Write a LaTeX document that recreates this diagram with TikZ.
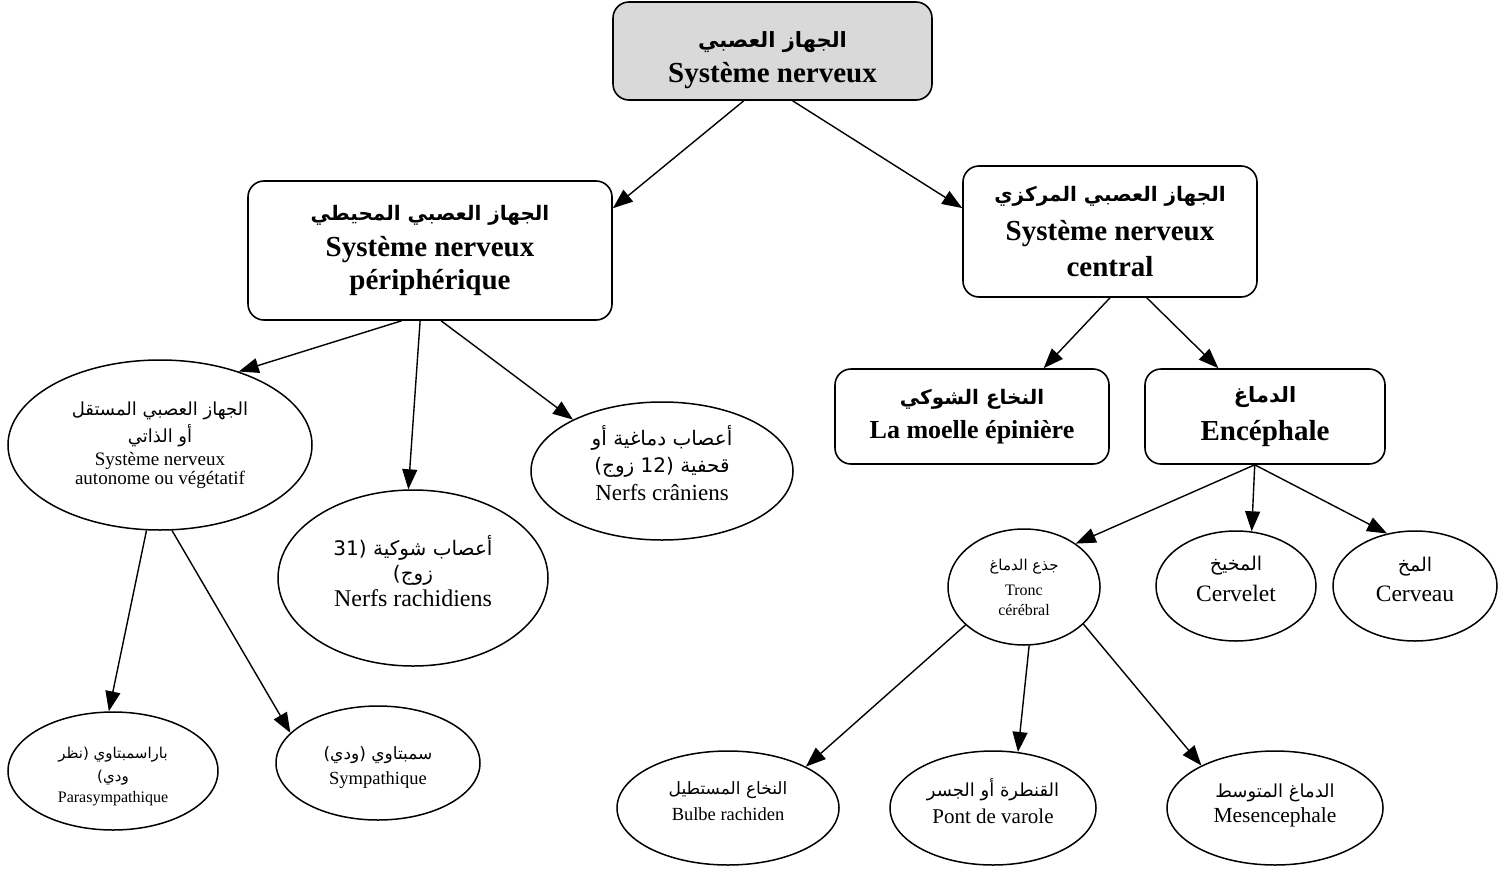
\documentclass[tikz,border=0pt]{standalone}
\usepackage{fontspec}
\setmainfont{Liberation Serif}
\newfontfamily\arabicfont[Script=Arabic]{DejaVu Sans}
\TeXXeTstate=1
\usetikzlibrary{arrows.meta,shapes.geometric}
\newcommand{\ara}[1]{\fontsize{#1}{#1}\arabicfont}
\newcommand{\fs}[1]{\fontsize{#1}{#1}\selectfont}
\newcommand{\uph}[1]{\rule{0pt}{#1}}
\newcommand{\dnd}[1]{\rule[-#1]{0pt}{#1}}
\begin{document}
\begin{tikzpicture}[x=1pt,y=-1pt,
  box/.style={draw, line width=1.6pt, rounded corners=16pt, inner sep=0pt, align=center, font=\bfseries},
  oval/.style={draw, ellipse, line width=1.5pt, inner sep=0pt, align=center},
  arr/.style={line width=1.4pt, -{Triangle[length=20pt,width=15pt]}}
]
\useasboundingbox (0,0) rectangle (1511,872);

% boxes
\node[box, fill=black!15, minimum width=319pt, minimum height=98pt] (top) at (772.5,51)
  {\uph{34pt}{\ara{21}\beginR الجهاز العصبي\endR}\\[8pt]\fs{29}Système nerveux};
\node[box, minimum width=364pt, minimum height=139pt] (peri) at (430,250.5)
  {{\ara{20}\beginR الجهاز العصبي المحيطي\endR}\\[10pt]\fs{29}Système nerveux\\[5pt]\fs{29}périphérique};
\node[box, minimum width=294pt, minimum height=131pt] (cent) at (1110,231.5)
  {{\ara{20}\beginR الجهاز العصبي المركزي\endR}\\[13pt]\fs{29}Système nerveux\\[8pt]\fs{29}central};
\node[box, minimum width=274pt, minimum height=95pt] (moel) at (972,416.5)
  {{\ara{20}\beginR النخاع الشوكي\endR}\\[10pt]\fs{26}La moelle épinière};
\node[box, minimum width=240pt, minimum height=95pt] (ence) at (1265,416.5)
  {{\ara{21}\beginR الدماغ\endR}\\[11pt]\fs{29}Encéphale};

% ellipses
\node[oval, minimum width=304pt, minimum height=170pt] (auto) at (160,445)
  {{\ara{18}\beginR الجهاز العصبي المستقل\endR}\\[4pt]{\ara{18}\beginR أو الذاتي\endR}\\[4pt]\fs{19}Système nerveux\\\fs{19}autonome ou végétatif};
\node[oval, minimum width=270pt, minimum height=176pt] (rach) at (413,578)
  {{\ara{20}\beginR أعصاب شوكية (31\endR}\\[4pt]{\ara{20}\beginR زوج)\endR}\\[3pt]\fs{24}Nerfs rachidiens\dnd{14pt}};
\node[oval, minimum width=262pt, minimum height=138pt] (cran) at (662,471)
  {{\ara{20}\beginR أعصاب دماغية أو\endR}\\[6pt]{\ara{20}\beginR قحفية (12 زوج)\endR}\\[5pt]\fs{23}Nerfs crâniens\dnd{16pt}};
\node[oval, minimum width=210pt, minimum height=118pt] (para) at (113,771)
  {\uph{22pt}{\ara{15}\beginR باراسمبتاوي (نظر\endR}\\[7pt]{\ara{15}\beginR ودي)\endR}\\[5pt]\fs{16}Parasympathique};
\node[oval, minimum width=204pt, minimum height=114pt] (symp) at (378,763)
  {\uph{22pt}{\ara{17}\beginR سمبتاوي (ودي)\endR}\\[7pt]\fs{18.5}Sympathique};
\node[oval, minimum width=152pt, minimum height=116pt] (tronc) at (1024,587)
  {{\ara{15}\beginR جذع الدماغ\endR}\\[10pt]\fs{16}Tronc\\[8pt]\fs{16}cérébral};
\node[oval, minimum width=160pt, minimum height=110pt] (cervelet) at (1236,586)
  {{\ara{19}\beginR المخيخ\endR}\\[9pt]\fs{23.5}Cervelet\dnd{14pt}};
\node[oval, minimum width=164pt, minimum height=110pt] (cerveau) at (1415,586)
  {{\ara{19}\beginR المخ\endR}\\[9pt]\fs{23.5}Cerveau\dnd{14pt}};
\node[oval, minimum width=222pt, minimum height=114pt] (bulbe) at (728,808)
  {{\ara{17}\beginR النخاع المستطيل\endR}\\[8pt]\fs{18.5}Bulbe rachiden\dnd{14pt}};
\node[oval, minimum width=206pt, minimum height=114pt] (pont) at (993,808)
  {{\ara{18}\beginR القنطرة أو الجسر\endR}\\[8pt]\fs{21}Pont de varole\dnd{14pt}};
\node[oval, minimum width=216pt, minimum height=114pt] (mesen) at (1275,808)
  {{\ara{18}\beginR الدماغ المتوسط\endR}\\[5pt]\fs{21.5}Mesencephale\dnd{10pt}};

% connectors
\draw[arr] (top.240.7) -- (peri.13.1);
\draw[arr] (top.292.7) -- (cent.171.7);
\draw[arr] (cent.270) -- (moel.34.9);
\draw[arr] (cent.299.5) -- (ence.134.7);
\draw[arr] (ence.258.1) -- (tronc.40.6);
\draw[arr] (ence.258.1) -- (cervelet.74.6);
\draw[arr] (ence.258.1) -- (cerveau.118.8);
\draw[arr] (peri.248.8) -- (auto.43.5);
\draw[arr] (peri.262.6) -- (rach.93.3);
\draw[arr] (peri.279) -- (cran.150.3);
\draw[arr] (auto.261.5) -- (para.94.9);
\draw[arr] (auto.278) -- (symp.161.3);
\draw[arr] (tronc.213.5) -- (bulbe.28.3);
\draw[arr] (tronc.275.9) -- (pont.66.8);
\draw[arr] (tronc.328.9) -- (mesen.150.2);
\end{tikzpicture}
\end{document}
